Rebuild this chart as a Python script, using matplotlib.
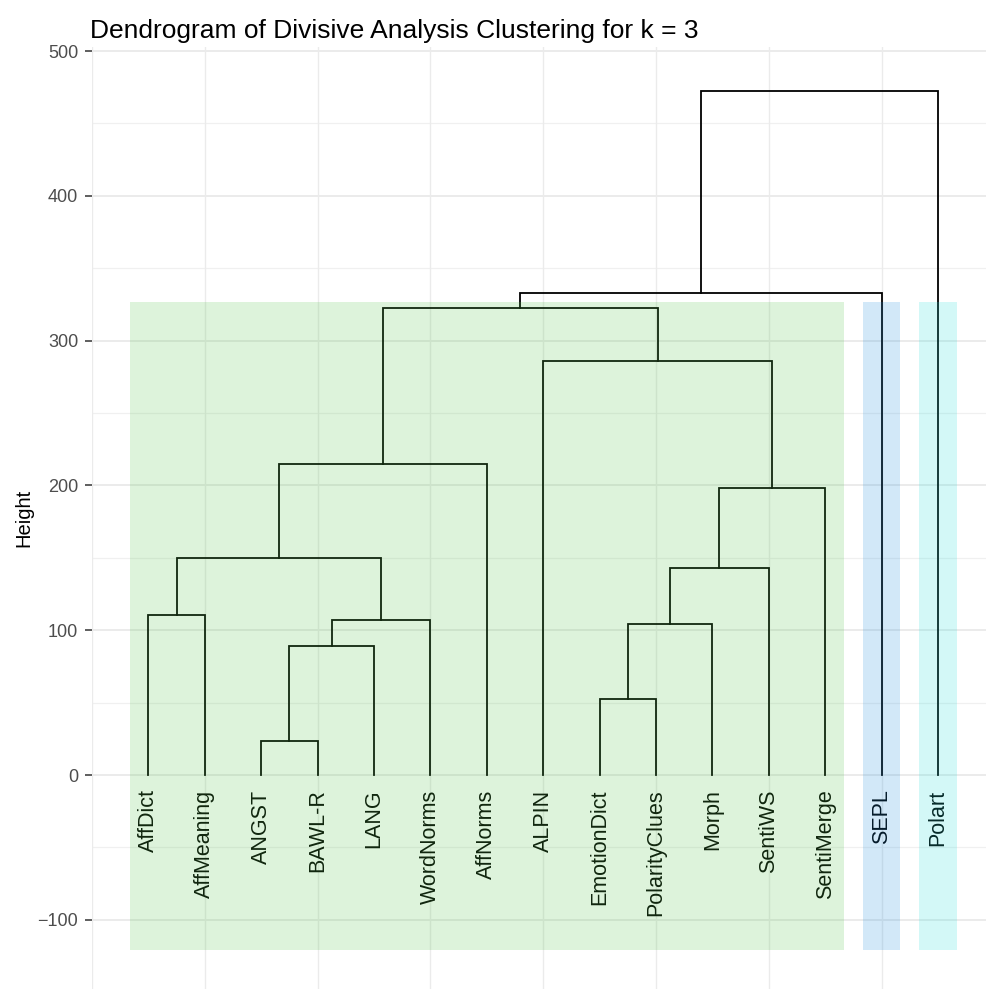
import numpy as np
import matplotlib
matplotlib.use("Agg")
from matplotlib import pyplot as plt
from matplotlib.patches import Rectangle

plt.rcParams['font.family'] = ['Liberation Sans', 'DejaVu Sans']

labels = ['AffDict', 'AffMeaning', 'ANGST', 'BAWL-R', 'LANG', 'WordNorms', 'AffNorms',
          'ALPIN', 'EmotionDict', 'PolarityClues', 'Morph', 'SentiWS', 'SentiMerge',
          'SEPL', 'Polart']

# merge steps: (left id, right id, height); ids >= 15 refer to earlier merges
merge_left = [2, 8, 15, 16, 17, 0, 18, 20, 21, 22, 7, 24, 26, 27]
merge_right = [3, 9, 4, 10, 5, 1, 11, 19, 12, 6, 23, 25, 13, 14]
merge_height = [23.7, 52.6, 89.4, 104.4, 107.2, 110.2, 143.2, 149.9, 198.5, 215.0,
                286.1, 322.3, 333.0, 472.6]

# clusters for k = 3: first leaf, last leaf, fill colour
cluster_first = [1, 14, 15]
cluster_last = [13, 14, 15]
cluster_colors = ['#55C34B', '#1E8CDC', '#23DCD7']

title = 'Dendrogram of Divisive Analysis Clustering for k = 3'

fig = plt.figure(figsize=(9.87, 9.89), dpi=100)
ax = fig.add_axes([92 / 987, 0, 895 / 987, 942 / 989])
ax.set_xlim(0, 895 / 56.4)
ax.set_ylim(-147.8, 502.8)

# grid
for yv in np.arange(-100, 501, 100):
    ax.axhline(yv, color='#EBEBEB', lw=1.4, zorder=0)
for yv in np.arange(-150, 501, 100):
    ax.axhline(yv, color='#F0F0F0', lw=0.9, zorder=0)
for xv in np.arange(0, 16, 2):
    ax.axvline(xv, color='#EBEBEB', lw=1.0, zorder=0)

# positions of leaves and merged nodes
n = len(labels)
xpos = {i: i + 1.0 for i in range(n)}
ypos = {i: 0.0 for i in range(n)}
for k, (a, b, h) in enumerate(zip(merge_left, merge_right, merge_height)):
    node = n + k
    xa, xb = xpos[a], xpos[b]
    ax.plot([xa, xa, xb, xb], [ypos[a], h, h, ypos[b]], color='black', lw=1.3,
            solid_joinstyle='miter', zorder=2)
    xpos[node] = (xa + xb) / 2
    ypos[node] = h

for i, lab in enumerate(labels):
    ax.text(i + 1, -10, lab, rotation=90, ha='center', va='top', fontsize=15.5,
            color='black', zorder=2)

for first, last, col in zip(cluster_first, cluster_last, cluster_colors):
    ax.add_patch(Rectangle((first - 0.33, -121), last - first + 0.66, 121 + 327,
                           facecolor=col, edgecolor='none', alpha=0.2, zorder=3))

for s in ax.spines.values():
    s.set_visible(False)
ax.set_xticks([])
ax.set_yticks(np.arange(-100, 501, 100))
ax.set_yticklabels(['\u2212100', '0', '100', '200', '300', '400', '500'])
ax.tick_params(axis='y', length=5, width=1.1, color='#333333', labelcolor='#4D4D4D',
               labelsize=13, pad=5)
ax.set_ylabel('Height', fontsize=14.5, labelpad=3)
fig.text(90 / 987, 1 - 38 / 989, title, fontsize=19, ha='left', va='baseline')

fig.savefig('out.png', dpi=100)
